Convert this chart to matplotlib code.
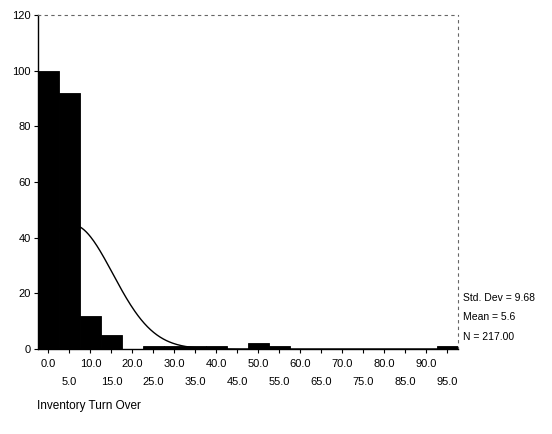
import numpy as np
import matplotlib
matplotlib.use('Agg')
import matplotlib.pyplot as plt

# Histogram of inventory turn over (bin midpoints and counts)
bin_mids = [0, 5, 10, 15, 20, 25, 30, 35, 40, 45, 50, 55, 60, 65, 70, 75, 80, 85, 90, 95]
counts = [100, 92, 12, 5, 0, 1, 1, 1, 1, 0, 2, 1, 0, 0, 0, 0, 0, 0, 0, 1]
std_dev = 9.68
mean = 5.6
n_total = 217.00
bin_width = 5
x_title = 'Inventory Turn Over'

plt.rcParams['font.family'] = ['Liberation Sans', 'DejaVu Sans']

fig = plt.figure(figsize=(5.52, 4.34), dpi=100)
ax = fig.add_axes([0.0688, 0.1959, 0.7609, 0.7696])

ax.bar(bin_mids, counts, width=bin_width, color='black', edgecolor='black',
       linewidth=0.6, align='center', zorder=2)

# normal curve scaled to the histogram
xs = np.linspace(-2.5, 97.5, 400)
ys = n_total * bin_width / (std_dev * np.sqrt(2 * np.pi)) * np.exp(-0.5 * ((xs - mean) / std_dev) ** 2)
ax.plot(xs, ys, color='black', linewidth=1.0, zorder=3)

ax.set_xlim(-2.5, 97.5)
ax.set_ylim(0, 120)
ax.set_yticks([0, 20, 40, 60, 80, 100, 120])
ax.set_yticklabels(['0', '20', '40', '60', '80', '100', '120'], fontsize=8)

# x tick labels on two alternating rows
ax.set_xticks(bin_mids)
ax.set_xticklabels([])
for m in bin_mids:
    row = 0 if (m // 5) % 2 == 0 else 1
    ax.annotate(f'{m:.1f}', xy=(m, 0), xycoords=('data', 'axes fraction'),
                xytext=(0, -11 - row * 12.5), textcoords='offset points',
                ha='center', va='center', fontsize=8)

ax.tick_params(axis='both', direction='out', length=3, width=0.8, colors='black')
ax.tick_params(axis='y', pad=2)

for side in ['left', 'bottom']:
    ax.spines[side].set_linewidth(1.0)
for side in ['top', 'right']:
    ax.spines[side].set_linestyle((0, (2, 4)))
    ax.spines[side].set_linewidth(0.8)
    ax.spines[side].set_color('#666666')

# stats box text
fig.text(0.839, 0.313, f'Std. Dev = {std_dev:.2f}', fontsize=7.5, va='center')
fig.text(0.839, 0.269, f'Mean = {mean:.1f}', fontsize=7.5, va='center')
fig.text(0.839, 0.224, f'N = {n_total:.2f}', fontsize=7.5, va='center')

fig.text(0.067, 0.064, x_title, fontsize=8.5, va='center')

fig.savefig('out.png', dpi=100)
